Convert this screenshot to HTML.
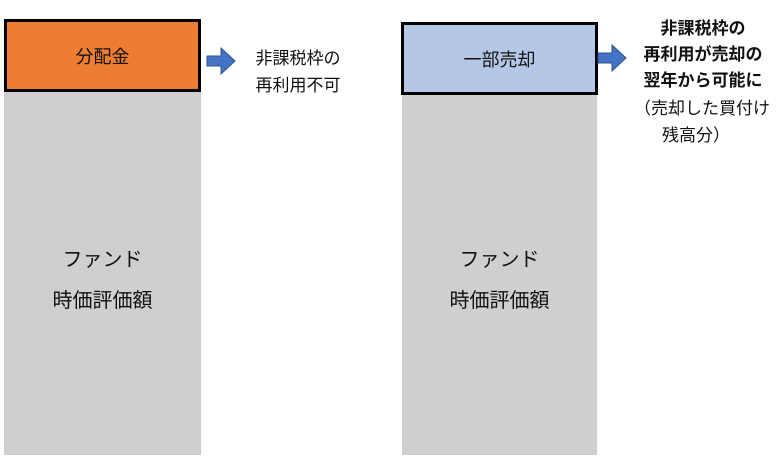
<!DOCTYPE html>
<html><head><meta charset="utf-8"><style>
body{margin:0;width:780px;height:465px;background:#fff;position:relative;overflow:hidden;font-family:"Liberation Sans","Noto Sans CJK JP",sans-serif;color:#111}
.a{position:absolute}
.gray{background:#d0cece}
.box{box-sizing:border-box;border:3px solid #000;display:flex;align-items:center;justify-content:center;font-size:18px}
.t{position:absolute;text-align:center;white-space:nowrap}
</style></head><body>
<div class="a gray" style="left:4px;top:90px;width:197px;height:365px"></div>
<div class="a gray" style="left:402px;top:92px;width:195px;height:363px"></div>
<div class="a box" style="left:4px;top:19px;width:197px;height:73px;background:#ed7d31">分配金</div>
<div class="a box" style="left:401px;top:22px;width:197px;height:73px;background:#b4c7e7">一部売却</div>
<svg class="a" style="left:206px;top:47px" width="30" height="30"><polygon points="1,9 15,9 15,1 29,14 15,27 15,19 1,19" fill="#4472c4" stroke="#2f528f"/></svg>
<svg class="a" style="left:597px;top:44px" width="30" height="30"><polygon points="1,9 15,9 15,1 29,14 15,27 15,19 1,19" fill="#4472c4" stroke="#2f528f"/></svg>
<div class="t" style="left:240px;top:45px;width:116px;font-size:17px;line-height:27px">非課税枠の<br>再利用不可</div>
<div class="t" style="left:628px;top:16px;width:150px;font-size:17px;line-height:26px;font-weight:bold">非課税枠の<br>再利用が売却の<br>翌年から可能に</div>
<div class="t" style="left:634px;top:95px;width:150px;font-size:17px;line-height:27px;text-align:left">（売却した買付け<br><span style="padding-left:28px">残高分）</span></div>
<div class="t" style="left:4px;top:240px;width:197px;font-size:20px;line-height:41px">ファンド<br>時価評価額</div>
<div class="t" style="left:402px;top:240px;width:195px;font-size:20px;line-height:41px">ファンド<br>時価評価額</div>
</body></html>
